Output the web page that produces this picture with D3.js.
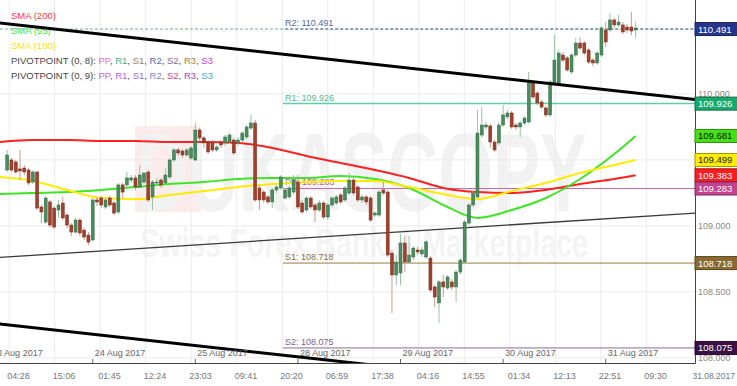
<!DOCTYPE html>
<html>
<head>
<meta charset="utf-8">
<script src="https://cdn.jsdelivr.net/npm/d3@7"></script>
<style>
  html, body { margin: 0; padding: 0; background: #fff; }
  svg { display: block; font-family: Arial, "Liberation Sans", sans-serif; }
</style>
</head>
<body>
<div id="chart"></div>
<script>
// USD/JPY hourly candles, trading hours counted from 23 Aug 2017 00:00 (weekend removed)
const firstCandleHour = 4;

const opens = [
  109.423, 109.499, 109.484, 109.431, 109.438, 109.423, 109.332, 109.408, 109.143, 109.029,
  109.181, 109.135, 109.120, 109.173, 109.082, 109.006, 108.953, 109.044, 108.968, 108.930,
  108.893, 109.196, 109.211, 109.143, 109.211, 109.173, 109.105, 109.310, 109.310, 109.347,
  109.363, 109.294, 109.332, 109.408, 109.219, 109.325, 109.347, 109.325, 109.370, 109.499,
  109.575, 109.567, 109.537, 109.514, 109.499, 109.726, 109.666, 109.635, 109.635, 109.575,
  109.635, 109.628, 109.635, 109.650, 109.628, 109.650, 109.673, 109.741, 109.779, 109.287,
  109.256, 109.219, 109.181, 109.272, 109.287, 109.211, 109.219, 109.256, 109.332, 109.173,
  109.120, 109.211, 109.158, 109.120, 109.173, 109.067, 109.158, 109.173, 109.234, 109.196,
  109.249, 109.347, 109.294, 109.196, 109.219, 109.211, 109.082, 109.082, 109.272, 109.256,
  108.794, 108.628, 108.643, 108.870, 108.726, 108.764, 108.817, 108.787, 108.764, 108.756,
  108.537, 108.416, 108.575, 108.529, 108.575, 108.537, 108.650, 108.726, 109.021, 109.158,
  109.219, 109.688, 109.749, 109.757, 109.635, 109.628, 109.764, 109.825, 109.855, 109.764,
  109.749, 109.779, 109.787, 110.090, 110.006, 109.938, 109.893, 109.840, 110.082, 110.082,
  110.294, 110.272, 110.166, 110.294, 110.385, 110.385, 110.332, 110.256, 110.234, 110.294,
  110.484, 110.484, 110.560, 110.522, 110.522, 110.506, 110.506, 110.484
];
const highs = [
  109.575, 109.514, 109.499, 109.575, 109.461, 109.438, 109.423, 109.416, 109.158, 109.226,
  109.196, 109.150, 109.196, 109.219, 109.097, 109.021, 109.060, 109.060, 108.983, 108.953,
  109.211, 109.219, 109.226, 109.211, 109.226, 109.188, 109.325, 109.325, 109.408, 109.385,
  109.385, 109.461, 109.408, 109.423, 109.347, 109.363, 109.363, 109.438, 109.514, 109.590,
  109.590, 109.582, 109.590, 109.605, 109.779, 109.741, 109.681, 109.650, 109.650, 109.613,
  109.650, 109.688, 109.703, 109.666, 109.673, 109.719, 109.764, 109.840, 109.802, 109.310,
  109.272, 109.234, 109.287, 109.310, 109.385, 109.287, 109.310, 109.385, 109.385, 109.196,
  109.226, 109.226, 109.173, 109.196, 109.188, 109.173, 109.226, 109.234, 109.249, 109.302,
  109.408, 109.363, 109.310, 109.234, 109.234, 109.226, 109.112, 109.272, 109.332, 109.272,
  108.817, 108.779, 108.938, 108.923, 108.923, 108.847, 108.840, 108.840, 108.893, 108.771,
  108.552, 108.590, 108.628, 108.628, 108.598, 108.665, 108.756, 109.044, 109.173, 109.272,
  109.878, 109.900, 109.787, 109.772, 109.650, 109.787, 109.915, 109.878, 109.870, 109.779,
  109.794, 109.832, 110.166, 110.105, 110.022, 109.953, 109.908, 110.105, 110.446, 110.332,
  110.317, 110.287, 110.309, 110.423, 110.431, 110.400, 110.347, 110.272, 110.325, 110.514,
  110.544, 110.613, 110.575, 110.597, 110.544, 110.529, 110.620, 110.544
];
const lows = [
  109.408, 109.408, 109.393, 109.347, 109.385, 109.310, 109.317, 109.120, 109.021, 109.014,
  108.991, 108.976, 109.060, 109.044, 108.983, 108.923, 108.938, 108.923, 108.893, 108.855,
  108.885, 109.150, 109.135, 109.128, 109.143, 109.082, 109.090, 109.211, 109.272, 109.325,
  109.272, 109.287, 109.317, 109.181, 109.120, 109.302, 109.287, 109.310, 109.355, 109.484,
  109.529, 109.514, 109.522, 109.499, 109.491, 109.635, 109.590, 109.544, 109.560, 109.560,
  109.590, 109.605, 109.620, 109.537, 109.605, 109.635, 109.658, 109.726, 109.181, 109.120,
  109.173, 109.166, 109.135, 109.249, 109.272, 109.196, 109.203, 109.241, 109.128, 109.090,
  109.105, 109.128, 109.029, 109.105, 109.052, 109.044, 109.143, 109.158, 109.166, 109.181,
  109.234, 109.234, 109.181, 109.173, 109.158, 109.029, 109.067, 109.067, 109.234, 108.764,
  108.340, 108.552, 108.552, 108.650, 108.711, 108.741, 108.779, 108.764, 108.749, 108.499,
  108.385, 108.264, 108.461, 108.514, 108.514, 108.423, 108.635, 108.711, 109.006, 109.143,
  109.203, 109.666, 109.726, 109.590, 109.560, 109.613, 109.749, 109.810, 109.734, 109.726,
  109.673, 109.764, 109.772, 109.961, 109.915, 109.885, 109.825, 109.825, 110.067, 110.067,
  110.241, 110.166, 110.150, 110.279, 110.332, 110.294, 110.226, 110.211, 110.219, 110.279,
  110.355, 110.469, 110.499, 110.506, 110.453, 110.461, 110.446, 110.423
];
const closes = [
  109.537, 109.423, 109.408, 109.416, 109.408, 109.325, 109.408, 109.135, 109.105, 109.211,
  109.006, 108.991, 109.158, 109.060, 109.006, 108.953, 109.044, 108.946, 108.915, 108.877,
  109.196, 109.181, 109.158, 109.196, 109.158, 109.097, 109.310, 109.256, 109.363, 109.363,
  109.294, 109.385, 109.400, 109.196, 109.332, 109.332, 109.310, 109.385, 109.499, 109.575,
  109.552, 109.537, 109.575, 109.590, 109.726, 109.666, 109.628, 109.560, 109.575, 109.597,
  109.613, 109.673, 109.688, 109.552, 109.650, 109.703, 109.749, 109.779, 109.196, 109.196,
  109.196, 109.181, 109.272, 109.294, 109.370, 109.272, 109.287, 109.347, 109.143, 109.105,
  109.211, 109.143, 109.120, 109.173, 109.067, 109.158, 109.211, 109.219, 109.181, 109.287,
  109.347, 109.249, 109.196, 109.219, 109.181, 109.044, 109.097, 109.256, 109.249, 108.779,
  108.628, 108.726, 108.870, 108.726, 108.779, 108.832, 108.802, 108.817, 108.878, 108.514,
  108.461, 108.575, 108.537, 108.613, 108.537, 108.650, 108.741, 109.029, 109.158, 109.249,
  109.703, 109.764, 109.764, 109.635, 109.575, 109.764, 109.840, 109.855, 109.749, 109.749,
  109.779, 109.817, 110.090, 109.976, 109.931, 109.900, 109.840, 110.090, 110.256, 110.309,
  110.256, 110.181, 110.294, 110.385, 110.347, 110.309, 110.241, 110.234, 110.309, 110.499,
  110.393, 110.560, 110.522, 110.544, 110.469, 110.484, 110.476, 110.499
];

// moving averages, read at these trading hours
const smaHours = [2, 10, 18, 26, 34, 42, 50, 58, 66, 74, 82, 90, 98, 106, 114, 122, 130, 138, 146, 151];
const sma200 = [109.635, 109.650, 109.650, 109.643, 109.643, 109.635, 109.635, 109.628, 109.590, 109.529,
                109.476, 109.423, 109.363, 109.287, 109.256, 109.249, 109.272, 109.317, 109.355, 109.383];
const sma55  = [109.241, 109.249, 109.256, 109.272, 109.294, 109.317, 109.332, 109.355, 109.363, 109.363,
                109.378, 109.355, 109.287, 109.158, 109.060, 109.120, 109.211, 109.355, 109.544, 109.681];
const sma100 = [109.370, 109.340, 109.272, 109.211, 109.203, 109.234, 109.264, 109.294, 109.317, 109.332,
                109.340, 109.340, 109.294, 109.241, 109.203, 109.264, 109.325, 109.400, 109.461, 109.499];

// pivot levels
const pivotNames = ['R2', 'R1', 'PP', 'S1', 'S2'];
const pivotValues = [110.491, 109.926, 109.283, 108.718, 108.075];
const pivotColors = ['#5b73b3', '#5fcf9f', '#c66aa6', '#9a7b3e', '#8b6a98'];
const pivotStartHour = 68.5;

// hand drawn trend lines (hour, price) at both ends
const trendHours = [0, 165];
const trendUpper = [110.545, 109.956];
const trendLower = [108.265, 107.676];
const trendThin = [108.756, 109.097];

// axes
const dayLabels = ['23 Aug 2017', '24 Aug 2017', '25 Aug 2017', '28 Aug 2017', '29 Aug 2017', '30 Aug 2017', '31 Aug 2017'];
const timeTickDays = [0, 0, 1, 1, 1, 2, 2, 3, 3, 4, 4, 5, 5, 5, 6];
const timeTickLabels = ['04:28', '15:06', '01:45', '12:24', '23:03', '09:41', '20:20', '06:59', '17:38', '04:16', '14:55', '01:34', '12:13', '22:51', '09:30'];
const priceTicks = [108, 108.5, 109, 109.5, 110];
const priceLabels = [108, 108.5, 109, 110]; // 109.500 sits under the SMA(100) tag

// value tags on the right axis
const tagValues = [110.491, 109.926, 109.681, 109.499, 109.383, 109.283, 108.718, 108.075];
const tagFills = ['#26358c', '#19a96c', '#44e014', '#ffee00', '#ff1c1c', '#c4428e', '#8b6a2f', '#3c1045'];
const tagText = ['#fff', '#fff', '#111', '#222', '#fff', '#fff', '#fff', '#fff'];

const legendSma = [['SMA (200)', '#ff3a3a'], ['SMA (55)', '#3ee83a'], ['SMA (100)', '#f5e600']];
const legendPivot1 = [['PP', '#de6fbf'], ['R1', '#3db385'], ['S1', '#a3813f'], ['R2', '#5167c2'], ['S2', '#866496'], ['R3', '#b07f3c'], ['S3', '#d042d0']];
const legendPivot2 = [['PP', '#c563e6'], ['R1', '#b463e6'], ['S1', '#a464e0'], ['R2', '#8282e0'], ['S2', '#d0457f'], ['R3', '#a544c4'], ['S3', '#3eabc6']];

class CandleChart {
  constructor(selector) {
    this.width = 737;
    this.height = 386;
    this.plotW = 695;
    this.plotH = 363;
    this.svg = d3.select(selector).append('svg')
      .attr('width', this.width)
      .attr('height', this.height);
  }

  setScales() {
    this.x = d3.scaleLinear().domain([0, 165]).range([-9.9, 695.5]);
    this.y = d3.scaleLinear().domain([110.711, 107.961]).range([0, this.plotH]);
    this.candles = opens.map((o, i) => ({
      hour: firstCandleHour + i, o, h: highs[i], l: lows[i], c: closes[i]
    }));
  }

  drawWatermark() {
    const g = this.svg.append('g').attr('class', 'watermark');
    g.append('rect')
      .attr('x', 135).attr('y', 126).attr('width', 66).attr('height', 86)
      .attr('fill', '#fcebeb');
    g.append('text')
      .attr('x', 137).attr('y', 211)
      .attr('textLength', 450).attr('lengthAdjust', 'spacingAndGlyphs')
      .attr('font-size', 112).attr('font-weight', 'bold')
      .attr('fill', '#f2f2f2')
      .text('DUKASCOPY');
    g.append('text')
      .attr('x', 140).attr('y', 257)
      .attr('textLength', 448).attr('lengthAdjust', 'spacingAndGlyphs')
      .attr('font-size', 40).attr('font-weight', 'bold')
      .attr('fill', '#f4f4f4')
      .text('Swiss Forex Bank & Marketplace');
  }

  drawGrid() {
    const g = this.svg.append('g').attr('class', 'grid');
    const tickHours = timeTickLabels.map((t, i) => {
      const [hh, mm] = t.split(':').map(Number);
      return timeTickDays[i] * 24 + hh + mm / 60;
    });
    this.tickHours = tickHours;
    g.selectAll('line.v').data(tickHours).join('line')
      .attr('class', 'v')
      .attr('x1', d => this.x(d)).attr('x2', d => this.x(d))
      .attr('y1', 0).attr('y2', this.plotH)
      .attr('stroke', '#ebebeb');
    g.selectAll('line.h').data(priceTicks).join('line')
      .attr('class', 'h')
      .attr('x1', 0).attr('x2', this.plotW)
      .attr('y1', d => this.y(d)).attr('y2', d => this.y(d))
      .attr('stroke', '#ebebeb');
  }

  drawLegend() {
    const g = this.svg.append('g').attr('class', 'legend').attr('font-size', 9.5);
    legendSma.forEach(([label, color], i) => {
      g.append('text').attr('x', 11).attr('y', 19 + i * 15).attr('fill', color).text(label);
    });
    [['PIVOTPOINT (0, 8): ', legendPivot1], ['PIVOTPOINT (0, 9): ', legendPivot2]].forEach(([head, items], i) => {
      const t = g.append('text').attr('x', 11).attr('y', 64 + i * 15).attr('fill', '#444');
      t.append('tspan').text(head);
      items.forEach(([name, color], k) => {
        t.append('tspan').attr('fill', color).text(name);
        if (k < items.length - 1) t.append('tspan').attr('fill', '#444').text(', ');
      });
    });
  }

  drawLevels() {
    const plot = this.plot;
    // current price dashed line across the whole chart
    plot.append('line')
      .attr('x1', 0).attr('x2', this.plotW)
      .attr('y1', this.y(pivotValues[0])).attr('y2', this.y(pivotValues[0]))
      .attr('stroke', '#6fae8e').attr('stroke-dasharray', '3,2');
    const x0 = this.x(pivotStartHour);
    const lv = plot.append('g').attr('class', 'pivots');
    lv.selectAll('line').data(pivotValues).join('line')
      .attr('x1', x0).attr('x2', this.plotW)
      .attr('y1', d => this.y(d)).attr('y2', d => this.y(d))
      .attr('stroke', (d, i) => pivotColors[i])
      .attr('stroke-width', (d, i) => i === 1 ? 1.5 : 1)
      .attr('stroke-dasharray', (d, i) => i === 0 ? '3,2' : null)
      .attr('stroke-dashoffset', 2.5);
    lv.selectAll('text').data(pivotValues).join('text')
      .attr('x', x0 + 2).attr('y', d => this.y(d) - 3)
      .attr('font-size', 9)
      .attr('fill', (d, i) => d3.color(pivotColors[i]).darker(0.3))
      .text((d, i) => `${pivotNames[i]}: ${d.toFixed(3)}`);
  }

  drawTrends() {
    this.plot.append('line')
      .attr('x1', this.x(trendHours[0])).attr('y1', this.y(trendThin[0]))
      .attr('x2', this.x(trendHours[1])).attr('y2', this.y(trendThin[1]))
      .attr('stroke', '#3a3a3a').attr('stroke-width', 1.3);
  }

  drawSma() {
    const lineGen = d3.line()
      .x(d => this.x(d[0])).y(d => this.y(d[1]))
      .curve(d3.curveMonotoneX);
    [[sma200, '#ff2020'], [sma55, '#3ee626'], [sma100, '#ffec00']].forEach(([vals, color]) => {
      this.plot.append('path')
        .datum(smaHours.map((h, i) => [h, vals[i]]))
        .attr('fill', 'none').attr('stroke', color).attr('stroke-width', 2)
        .attr('d', lineGen);
    });
  }

  drawCandles() {
    const g = this.plot.append('g').attr('class', 'candles');
    const up = d => d.c >= d.o;
    const c = g.selectAll('g.candle').data(this.candles).join('g').attr('class', 'candle');
    c.append('line')
      .attr('x1', d => this.x(d.hour)).attr('x2', d => this.x(d.hour))
      .attr('y1', d => this.y(d.h)).attr('y2', d => this.y(d.l))
      .attr('stroke', d => up(d) ? '#98c2a6' : '#c99a8f');
    c.append('rect')
      .attr('x', d => this.x(d.hour) - 1.5)
      .attr('width', 3)
      .attr('y', d => this.y(Math.max(d.o, d.c)))
      .attr('height', d => Math.max(1, Math.abs(this.y(d.o) - this.y(d.c))))
      .attr('fill', d => up(d) ? '#4a8c5e' : '#a1412d')
      .attr('stroke', d => up(d) ? '#2f6b44' : '#7d2b1c')
      .attr('stroke-width', 0.5);
  }

  drawThickTrends() {
    [trendUpper, trendLower].forEach(vals => {
      this.plot.append('line')
        .attr('x1', this.x(trendHours[0])).attr('y1', this.y(vals[0]))
        .attr('x2', this.x(trendHours[1])).attr('y2', this.y(vals[1]))
        .attr('stroke', '#000').attr('stroke-width', 3);
    });
  }

  drawAxes() {
    const g = this.svg.append('g').attr('class', 'axes');
    g.append('line').attr('x1', 0).attr('x2', this.plotW + 0.5)
      .attr('y1', this.plotH + 0.5).attr('y2', this.plotH + 0.5).attr('stroke', '#444');
    g.append('line').attr('x1', this.plotW + 0.5).attr('x2', this.plotW + 0.5)
      .attr('y1', 0).attr('y2', this.plotH + 0.5).attr('stroke', '#444');

    // day boundaries
    const days = g.selectAll('g.day').data(dayLabels).join('g').attr('class', 'day')
      .attr('transform', (d, i) => `translate(${this.x(i * 24)},0)`);
    days.append('line').attr('y1', this.plotH - 4).attr('y2', this.plotH)
      .attr('stroke', '#666');
    days.append('text').attr('x', 2).attr('y', this.plotH - 7)
      .attr('font-size', 9).attr('fill', '#666').text(d => d);

    g.selectAll('text.time').data(timeTickLabels).join('text')
      .attr('class', 'time')
      .attr('x', (d, i) => this.x(this.tickHours[i]) - 2)
      .attr('y', 379)
      .attr('font-size', 9).attr('fill', '#777')
      .text(d => d);
    g.append('text').attr('x', 735).attr('y', 379)
      .attr('text-anchor', 'end')
      .attr('font-size', 8.5).attr('fill', '#777').text('31.08.2017');

    g.selectAll('text.price').data(priceLabels).join('text')
      .attr('class', 'price')
      .attr('x', 698).attr('y', d => this.y(d) + 3)
      .attr('font-size', 9).attr('fill', '#888')
      .text(d => d.toFixed(3));

    const tags = g.selectAll('g.tag').data(tagValues).join('g').attr('class', 'tag')
      .attr('transform', d => `translate(${this.plotW},${this.y(d)})`);
    tags.append('rect')
      .attr('x', 0).attr('y', -6.5).attr('width', 44).attr('height', 13)
      .attr('fill', (d, i) => tagFills[i])
      .attr('stroke', (d, i) => d3.color(tagFills[i]).darker(1.2))
      .attr('stroke-width', 1);
    tags.append('text')
      .attr('x', 3).attr('y', 3.5)
      .attr('font-size', 9.5)
      .attr('fill', (d, i) => tagText[i])
      .text(d => d.toFixed(3));
  }

  draw() {
    this.setScales();
    this.drawWatermark();
    this.drawGrid();
    this.drawLegend();
    this.svg.append('clipPath').attr('id', 'plot-clip')
      .append('rect').attr('width', this.plotW).attr('height', this.plotH);
    this.plot = this.svg.append('g').attr('clip-path', 'url(#plot-clip)');
    this.drawLevels();
    this.drawTrends();
    this.drawSma();
    this.drawCandles();
    this.drawThickTrends();
    this.drawAxes();
    return this;
  }
}

new CandleChart('#chart').draw();
</script>
</body>
</html>
